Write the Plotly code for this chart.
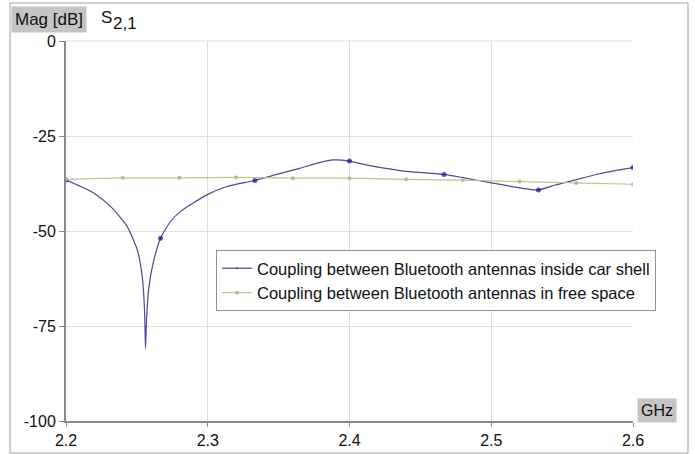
import plotly.graph_objects as go

# Coupling inside car shell (S2,1, dB)
car_x = [2.2, 2.2105, 2.22, 2.2316, 2.2433, 2.2503, 2.2538, 2.2554, 2.2561,
         2.2568, 2.2585, 2.262, 2.2667, 2.2737, 2.2807, 2.2994, 2.3135, 2.3333,
         2.3485, 2.3649, 2.3789, 2.3883, 2.4, 2.4117, 2.4257, 2.4421, 2.4667,
         2.4819, 2.4982, 2.5146, 2.5263, 2.5333, 2.5451, 2.5567, 2.5754, 2.5872, 2.6]
car_y = [-36.6, -38.3, -40.1, -43.6, -48.9, -55.0, -62.0, -70.8, -80.9,
         -73.4, -64.7, -57.6, -51.9, -47.5, -44.9, -40.5, -38.3, -36.7,
         -35.1, -33.5, -32.0, -31.3, -31.6, -32.6, -33.5, -34.4, -35.1,
         -36.1, -37.2, -38.3, -39.0, -39.2, -37.9, -36.8, -35.0, -34.1, -33.3]
car_marker_x = [2.2, 2.2667, 2.3333, 2.4, 2.4667, 2.5333, 2.6]

# Coupling in free space
free_x = [2.2, 2.24, 2.28, 2.32, 2.36, 2.4, 2.44, 2.48, 2.52, 2.56, 2.6]
free_y = [-36.4, -36.0, -36.0, -35.9, -36.1, -36.1, -36.4, -36.6, -37.0, -37.4, -37.7]

x_ticks = [2.2, 2.3, 2.4, 2.5, 2.6]
y_ticks = [0, -25, -50, -75, -100]

car_sizes = [5 if any(abs(x - m) < 1e-3 for m in car_marker_x) else 0 for x in car_x]

FONT = "Liberation Sans, Arial, sans-serif"

fig = go.Figure()
fig.add_trace(go.Scatter(
    x=car_x, y=car_y, mode="lines+markers",
    name="Coupling between Bluetooth antennas inside car shell",
    line=dict(color="#4a4a9a", width=1.2, shape="spline", smoothing=0.6),
    marker=dict(color="#1010a0", size=car_sizes, line=dict(width=0)),
))
fig.add_trace(go.Scatter(
    x=free_x, y=free_y, mode="lines+markers",
    name="Coupling between Bluetooth antennas in free space",
    line=dict(color="#bcc48e", width=1.2),
    marker=dict(color="#b4bb94", size=4, line=dict(width=0)),
))

W, H = 695, 454
L, R, T, B = 66, 62, 41, 33
pw, ph = W - L - R, H - T - B

def px(xp):
    return (xp - L) / pw

def py(yp):
    return (H - B - yp) / ph

fig.update_layout(
    width=W, height=H,
    margin=dict(l=L, r=R, t=T, b=B, autoexpand=False),
    paper_bgcolor="white", plot_bgcolor="white",
    font=dict(family=FONT, size=16, color="#111"),
    showlegend=True,
    legend=dict(
        x=px(216), y=py(250), xanchor="left", yanchor="top",
        bgcolor="white", bordercolor="#909090", borderwidth=1,
        font=dict(family=FONT, size=16.5, color="#111"),
        tracegroupgap=0, itemwidth=30,
    ),
    xaxis=dict(
        range=[2.2, 2.6], tickvals=x_ticks, ticktext=[f"{v:.1f}" for v in x_ticks],
        showgrid=True, gridcolor="#dedede", gridwidth=1,
        showline=True, linecolor="#8a8a8a", linewidth=2,
        ticks="outside", ticklen=4, tickcolor="#8a8a8a",
        zeroline=False, tickfont=dict(size=16), automargin=False,
    ),
    yaxis=dict(
        range=[-100, 0], tickvals=y_ticks, ticktext=[str(v) for v in y_ticks],
        showgrid=True, gridcolor="#dedede", gridwidth=1,
        showline=True, linecolor="#8a8a8a", linewidth=2,
        ticks="outside", ticklen=5, tickcolor="#8a8a8a",
        zeroline=False, tickfont=dict(size=16), automargin=False,
    ),
    shapes=[
        # outer frame
        dict(type="rect", xref="paper", yref="paper",
             x0=px(10), x1=px(688), y0=py(453), y1=py(3),
             line=dict(color="#a0a0a0", width=1), layer="below"),
        # top grid line
        dict(type="line", xref="paper", yref="paper", x0=0, x1=1, y0=1, y1=1,
             line=dict(color="#dedede", width=1), layer="below"),
    ],
    annotations=[
        dict(text="Mag [dB]", xref="paper", yref="paper", x=px(11), y=py(20),
             xanchor="left", yanchor="middle", showarrow=False,
             bgcolor="#c4c4c4", borderpad=3, font=dict(size=17, color="#111")),
        dict(text="S", xref="paper", yref="paper", x=px(99), y=py(18),
             xanchor="left", yanchor="middle", showarrow=False,
             font=dict(size=17, color="#111")),
        dict(text="2,1", xref="paper", yref="paper", x=px(111), y=py(23),
             xanchor="left", yanchor="middle", showarrow=False,
             font=dict(size=17, color="#111")),
        dict(text="GHz", xref="paper", yref="paper", x=px(657), y=py(410),
             xanchor="center", yanchor="middle", showarrow=False,
             bgcolor="#c4c4c4", borderpad=3, font=dict(size=16, color="#111")),
    ],
)

fig.write_html("out.html", config={"displayModeBar": False},
               post_script="document.body.style.margin='0';")
